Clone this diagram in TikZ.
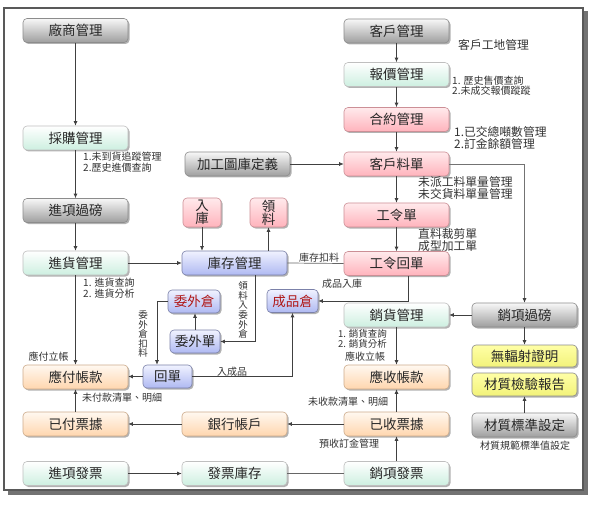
\documentclass[tikz,border=0pt]{standalone}
\usepackage{fontspec}
\setmainfont{Noto Sans CJK TC}
\usetikzlibrary{arrows.meta,shadows,calc}
\definecolor{gnB}{HTML}{CDEFE0}
\definecolor{pkT}{HTML}{FFEAEC}
\definecolor{pkB}{HTML}{FFB3BC}
\definecolor{blT}{HTML}{F0F2FF}
\definecolor{blB}{HTML}{AFB9F2}
\definecolor{orT}{HTML}{FFF8F0}
\definecolor{orB}{HTML}{FFD6AE}
\definecolor{ylw}{HTML}{FFFF80}
\definecolor{wred}{HTML}{B01818}
\tikzset{
  nb/.style={rounded corners=4pt, minimum width=105pt, minimum height=24pt, inner sep=0pt,
    font=\fontsize{13.5}{14}\selectfont, text=black!85, line width=0.6pt,
    drop shadow={shadow xshift=1.5pt,shadow yshift=-1.5pt,opacity=0.3,fill=black}},
  grayb/.style={nb, draw=black!45, top color=black!3, bottom color=black!38},
  greenb/.style={nb, draw=black!25, top color=white, bottom color=gnB},
  pinkb/.style={nb, draw=pkB!80!black, top color=pkT, bottom color=pkB},
  blueb/.style={nb, draw=blB!70!black, top color=blT, bottom color=blB},
  orangeb/.style={nb, draw=orB!80!black, top color=orT, bottom color=orB},
  yellowb/.style={nb, draw=black!45, top color=ylw!70, bottom color=ylw!95!black},
  lbl/.style={font=\fontsize{10}{10.5}\selectfont, text=black!80, inner sep=0pt, align=left},
  lblb/.style={font=\fontsize{11.8}{12.2}\selectfont, text=black!80, inner sep=0pt, align=left},
  vlbl/.style={font=\fontsize{9.5}{9.6}\selectfont, text=black!80, inner sep=0pt, align=center},
  arr/.style={draw=black!75, line width=0.7pt, -{Latex[length=4.5pt,width=4pt]}},
  ln/.style={draw=black!60, line width=0.7pt}
}
\begin{document}
\begin{tikzpicture}[x=1pt,y=-1pt]
\useasboundingbox (0,0) rectangle (594,505);
% frame
\fill[black!55] (7.5,11.5) rectangle (588,494.5);
\filldraw[fill=white, draw=black!65, line width=1.2pt] (4,8) rectangle (583,490);

% left column
\node[grayb] (cs) at (75.5,30.5) {廠商管理};
\node[greenb] (cg) at (75.5,138) {採購管理};
\node[grayb] (jxgb) at (75.5,210.5) {進項過磅};
\node[greenb] (jhgl) at (75.5,263) {進貨管理};
\node[orangeb] (yfzk) at (75.5,377) {應付帳款};
\node[orangeb] (yfpj) at (75.5,424) {已付票據};
\node[greenb] (jxfp) at (75.5,473.5) {進項發票};

% middle column
\node[grayb] (jgtk) at (237.5,164) {加工圖庫定義};
\node[blueb] (kcgl) at (234.5,263) {庫存管理};
\node[orangeb] (yhzh) at (234.5,424) {銀行帳戶};
\node[greenb] (fpkc) at (234.5,473.5) {發票庫存};
\node[pinkb, minimum width=38pt, minimum height=29pt, align=center, font=\fontsize{13.5}{13}\selectfont] (rk) at (202,212.5) {入\\庫};
\node[pinkb, minimum width=37pt, minimum height=29pt, align=center, font=\fontsize{13.5}{13}\selectfont] (ll) at (268.5,212.5) {領\\料};
\node[blueb, minimum width=52pt, minimum height=23pt, text=wred] (wwc) at (194,301.5) {委外倉};
\node[blueb, minimum width=50pt, minimum height=23pt] (wwd) at (195,341.5) {委外單};
\node[blueb, minimum width=51pt, minimum height=23pt, text=wred] (cpc) at (292.5,301) {成品倉};
\node[blueb, minimum width=49pt, minimum height=23pt] (hd) at (167.5,376.5) {回單};

% right-middle column
\node[grayb] (khgl) at (396.5,31) {客戶管理};
\node[greenb] (bjgl) at (396.5,74.5) {報價管理};
\node[pinkb] (hygl) at (396.5,119.5) {合約管理};
\node[pinkb] (khld) at (396.5,164) {客戶料單};
\node[pinkb] (gld) at (396.5,215) {工令單};
\node[pinkb] (glhd) at (396.5,263.5) {工令回單};
\node[greenb] (xhgl) at (396.5,315) {銷貨管理};
\node[orangeb] (yszk) at (396.5,377) {應收帳款};
\node[orangeb] (yspj) at (396.5,424) {已收票據};
\node[greenb] (xxfp) at (396.5,473.5) {銷項發票};

% right column
\node[grayb] (xxgb) at (524.5,315) {銷項過磅};
\node[yellowb, minimum height=22pt] (wfs) at (524.5,356) {無輻射證明};
\node[yellowb, minimum height=23pt] (czjy) at (524.5,384.5) {材質檢驗報告};
\node[grayb] (czbz) at (524.5,425) {材質標準設定};

% helper coordinates
\coordinate (g1) at (408,0);
\coordinate (g2) at (255,0);
\coordinate (g3) at (157,0);

% connectors
\draw[arr] (cs) -- (cg);
\draw[arr] (cg) -- (jxgb);
\draw[arr] (jxgb) -- (jhgl);
\draw[arr] (jhgl) -- (yfzk);
\draw[arr] (jhgl) -- (kcgl);
\draw[arr] (rk.south) -- (rk.south |- kcgl.north);
\draw[arr] (ll.south |- kcgl.north) -- (ll.south);
\draw[ln] (kcgl.east) -- (glhd.west);
\draw[arr] (glhd.south -| g1) |- (cpc.east);
\draw[arr] (kcgl.south -| g2) |- (wwd.east);
\draw[arr] (wwd.north) -- (wwd.north |- wwc.south);
\draw[arr] (wwc.west) -| (g3 |- hd.north);
\draw[arr] (hd.east) -| (cpc.south);
\draw[arr] (hd.west) -- (hd.west -| yfzk.east);
\draw[arr] (yfpj) -- (yfzk);
\draw[arr] (yhzh) -- (yfpj);
\draw[arr] (yspj) -- (yhzh);
\draw[arr] (jxfp) -- (fpkc);
\draw[ln] (fpkc) -- (xxfp);
\draw[arr] (xxfp) -- (yspj);
\draw[arr] (yspj) -- (yszk);
\draw[arr] (xhgl) -- (yszk);
\draw[arr] (xxgb) -- (xhgl);
\draw[arr] (xxgb) -- (wfs);
\draw[arr] (czbz) -- (czjy);
\draw[arr] (khgl) -- (bjgl);
\draw[arr] (bjgl) -- (hygl);
\draw[arr] (hygl) -- (khld);
\draw[arr] (khld) -- (gld);
\draw[arr] (gld) -- (glhd);
\draw[arr] (jgtk) -- (khld);
\draw[ln, draw=black!55] (khld.east) -| ($(xxgb.north)+(0,-1)$);
\draw[arr] ($(xxgb.north)+(0,-2)$) -- (xxgb.north);

% labels
\node[lblb, anchor=west] (t1) at (458,45) {客戶工地管理};
\node[lbl, anchor=north west] (t2) at (452,75.5) {1. 歷史售價查詢\\2.未成交報價蹤蹤};
\node[lblb, anchor=north west] (t3) at (454,126.5) {1.已交總噸數管理\\2.訂金餘額管理};
\node[lblb, anchor=north west] (t4) at (418,176.5) {未派工料單量管理\\未交貨料單量管理};
\node[lblb, anchor=north west] (t5) at (418,228.5) {直料裁剪單\\成型加工單};
\node[lbl, anchor=north west] (t6) at (83,152) {1.未到貨追蹤管理\\2.歷史進價查詢};
\node[lbl, anchor=north west] (t7) at (83,278) {1. 進貨查詢\\2. 進貨分析};
\node[lbl] (t8) at (48.5,357) {應付立帳};
\node[lbl, anchor=west] (t9) at (82,398) {未付款清單、明細};
\node[vlbl] (t10) at (143,334) {委\\外\\倉\\扣\\料};
\node[vlbl] (t11) at (243,310) {領\\料\\入\\委\\外\\倉};
\node[lbl] (t12) at (232,371.5) {入成品};
\node[lbl] (t13) at (319,258) {庫存扣料};
\node[lbl] (t14) at (342,284) {成品入庫};
\node[lbl, anchor=north west, font=\fontsize{9.5}{9.5}\selectfont] (t15) at (338,329.5) {1. 銷貨查詢\\2. 銷貨分析};
\node[lbl] (t16) at (365,357) {應收立帳};
\node[lbl] (t17) at (348,402) {未收款清單、明細};
\node[lbl] (t18) at (349,444) {預收訂金管理};
\node[lbl] (t19) at (525,446) {材質規範標準值設定};
\end{tikzpicture}
\end{document}
